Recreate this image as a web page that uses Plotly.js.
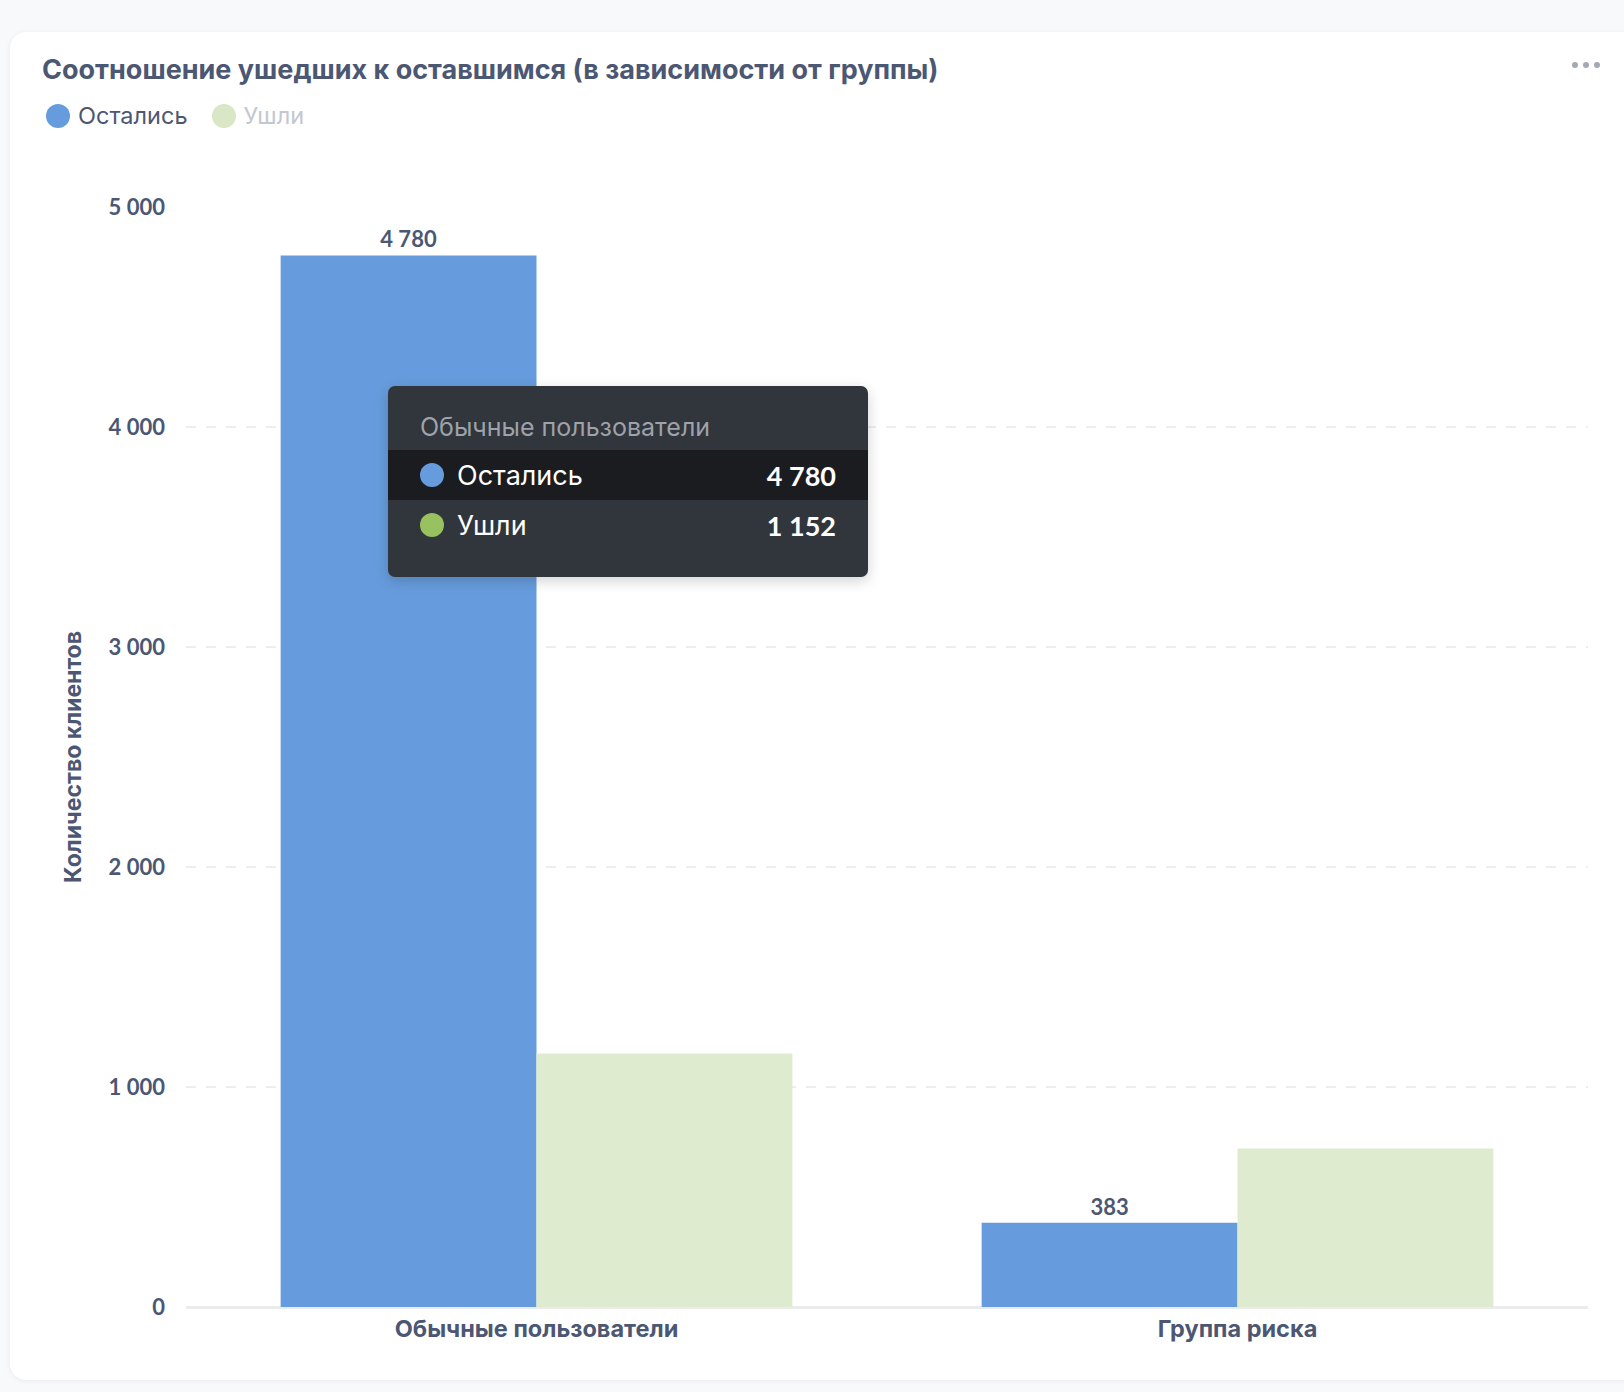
<!DOCTYPE html>
<html>
<head>
<meta charset="utf-8">
<script src="https://cdn.plot.ly/plotly-3.0.1.min.js"></script>
<style>
  html, body { margin:0; padding:0; }
  body { width:1624px; height:1392px; background:#F8F9FB; position:relative; overflow:hidden; font-family: Inter, Lato, sans-serif; }
  #card { position:absolute; left:10px; top:32px; width:1660px; height:1348px; background:#fff; border-radius:16px; box-shadow:0 1px 5px rgba(60,70,90,0.08); }
  #chart { position:absolute; left:0; top:0; width:1624px; height:1392px; }
  #legend { position:absolute; left:46px; top:101px; display:flex; align-items:center; font-size:23.5px; font-family: Inter; }
  .li { display:flex; align-items:center; margin-right:24px; }
  .dot { width:24px; height:24px; border-radius:50%; margin-right:8px; }
  #menu { position:absolute; left:1572px; top:62px; display:flex; gap:5px; }
  #menu span { width:6px; height:6px; border-radius:50%; background:#A3A8B6; display:block; }
  #tip { position:absolute; left:388px; top:386px; width:480px; height:191px; background:#31353C; border-radius:7px; box-shadow:0 4px 14px rgba(0,0,0,0.18); overflow:hidden; }
  #tip .hdr { position:absolute; left:32px; top:26px; font-size:25px; color:#9EA2AA; font-family: Inter; line-height:30px; }
  #tip .row { position:absolute; left:0; width:480px; height:50px; display:flex; align-items:center; }
  #tip .row .d { width:24px; height:24px; border-radius:50%; margin-left:32px; margin-right:13px; }
  #tip .row .n { font-size:27px; color:#fff; flex:1; font-family: Inter; }
  #tip .row .v { font-size:27px; color:#fff; font-weight:700; margin-right:32px; font-family: Lato; }
</style>
</head>
<body>
<div id="card"></div>
<div id="chart"></div>
<div id="legend"></div>
<div id="menu"><span></span><span></span><span></span></div>
<div id="tip"></div>
<script>
const chartTitle = "Соотношение ушедших к оставшимся (в зависимости от группы)";
const yAxisTitle = "Количество клиентов";
const categories = ["Обычные пользователи", "Группа риска"];
const seriesNames = ["Остались", "Ушли"];
const stayed = [4780, 383];
const left = [1152, 721];
const yTickVals = [0, 1000, 2000, 3000, 4000, 5000];
const hoveredIndex = 0;

const blue = "#669CDD";
const greenFaded = "#DFEBCF";
const greenFull = "#98C15F";
const ink = "#4C5773";

function fmt(v) { return String(v).replace(/\B(?=(\d{3})+(?!\d))/g, " "); }

const traces = [
  {
    type: "bar", name: seriesNames[0], x: categories, y: stayed,
    marker: { color: blue, line: { width: 0 } },
    text: stayed.map(fmt), textposition: "outside", cliponaxis: false,
    textfont: { family: "Lato", size: 22, color: ink, weight: 700 },
    hoverinfo: "skip"
  },
  {
    type: "bar", name: seriesNames[1], x: categories, y: left,
    marker: { color: greenFaded, line: { width: 0 } },
    textposition: "none",
    hoverinfo: "skip"
  }
];

const layout = {
  width: 1624, height: 1392,
  paper_bgcolor: "rgba(0,0,0,0)", plot_bgcolor: "rgba(0,0,0,0)",
  margin: { l: 186, r: 36, t: 207, b: 85 },
  barmode: "group", bargap: 0.27, bargroupgap: 0,
  showlegend: false,
  font: { family: "Lato", color: ink },
  title: {
    text: chartTitle, xref: "container", yref: "container",
    x: 42/1624, xanchor: "left", y: 1 - 70/1392, yanchor: "middle",
    font: { family: "Inter", size: 27, color: ink, weight: 700 }
  },
  xaxis: {
    type: "category", showgrid: false, zeroline: false, showline: false,
    ticks: "", tickfont: { family: "Inter", size: 23.5, color: ink, weight: 700 },
    ticklabelstandoff: 5, fixedrange: true
  },
  yaxis: {
    range: [0, 5000], tickvals: yTickVals, ticktext: yTickVals.map(fmt),
    showgrid: true, gridcolor: "#ECEEF1", gridwidth: 2, griddash: "10px,10px",
    zeroline: true, zerolinecolor: "#EAEBED", zerolinewidth: 3,
    showline: false, ticks: "",
    tickfont: { family: "Lato", size: 22, color: ink, weight: 700 },
    ticklabelstandoff: 20,
    title: { text: yAxisTitle, standoff: 20, font: { family: "Inter", size: 23, color: ink, weight: 700 } },
    fixedrange: true
  }
};

Plotly.newPlot("chart", traces, layout, { displayModeBar: false, staticPlot: true });

// legend
const legendEl = document.getElementById("legend");
[[seriesNames[0], blue, ink], [seriesNames[1], "#D9E7C6", "#C3C7CF"]].forEach(([n, c, tc]) => {
  const li = document.createElement("div"); li.className = "li";
  li.innerHTML = `<div class="dot" style="background:${c}"></div><span style="color:${tc}">${n}</span>`;
  legendEl.appendChild(li);
});

// tooltip
const tip = document.getElementById("tip");
tip.innerHTML = `<div class="hdr">${categories[hoveredIndex]}</div>
<div class="row" style="top:64px;background:#1B1C20"><div class="d" style="background:${blue}"></div><div class="n">${seriesNames[0]}</div><div class="v">${fmt(stayed[hoveredIndex])}</div></div>
<div class="row" style="top:114px"><div class="d" style="background:${greenFull}"></div><div class="n">${seriesNames[1]}</div><div class="v">${fmt(left[hoveredIndex])}</div></div>`;
</script>
</body>
</html>
